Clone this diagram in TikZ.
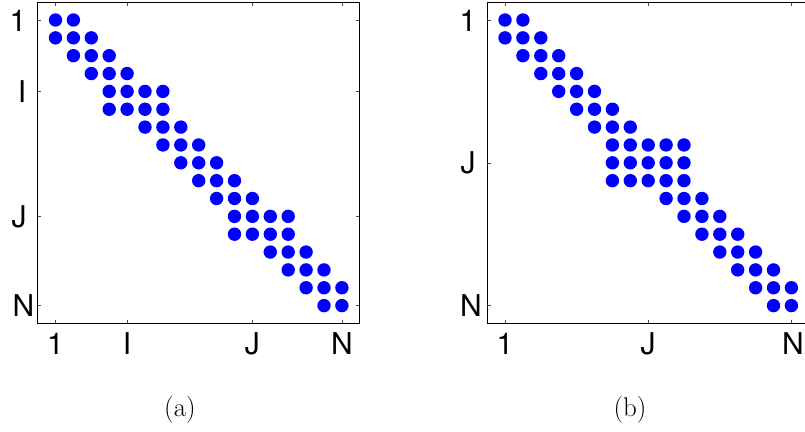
\documentclass[tikz,border=0pt]{standalone}
\usepackage{fontspec}
\newfontfamily\axfont{TeX Gyre Heros}
\definecolor{mblue}{RGB}{0,0,255}
\begin{document}
\begin{tikzpicture}[x=1pt,y=-1pt,
  dot/.style={fill=mblue},
  axbox/.style={line width=0.9pt},
  tck/.style={line width=0.5pt, black!70},
  ticklab/.style={font=\axfont\fontsize{30}{30}\selectfont, inner sep=0pt, anchor=center},
  captext/.style={font=\fontsize{27}{27}\selectfont, inner sep=0pt}]
\useasboundingbox (0,0) rectangle (805,431);
\clip (0,0) rectangle (805,431);
% ---------- plot (a) ----------
\draw[axbox] (37.7,2.7) rectangle (359.3,323.3);
\foreach \r/\a/\b in {1/1/2,2/1/3,3/2/4,4/3/5,5/4/7,6/4/7,7/6/8,8/7/9,9/8/10,10/9/11,11/10/12,12/11/14,13/11/14,14/13/15,15/14/16,16/15/17,17/16/17}
  \foreach \c in {\a,...,\b}
    \fill[dot] ({55.5+(\c-1)*17.9},{20+(\r-1)*17.85}) circle (6.7);
\foreach \k in {1,5,12,17}{
  \draw[tck] ({55.5+(\k-1)*17.9},323.3) -- ++(0,-3.5);
  \draw[tck] ({55.5+(\k-1)*17.9},2.7) -- ++(0,3.5);
  \draw[tck] (37.7,{20+(\k-1)*17.85}) -- ++(3.5,0);
  \draw[tck] (359.3,{20+(\k-1)*17.85}) -- ++(-3.5,0);
}
\node[ticklab] (ay1) at (18,21) {1};
\node[ticklab] (ayI) at (22,92) {I};
\node[ticklab] (ayJ) at (19,217) {J};
\node[ticklab] (ayN) at (23.5,306) {N};
\node[ticklab] (ax1) at (55.5,344) {1};
\node[ticklab] (axI) at (127.1,344) {I};
\node[ticklab] (axJ) at (252.4,344) {J};
\node[ticklab] (axN) at (341.9,344) {N};
\node[captext] (capa) at (180,410) {(a)};
% ---------- plot (b) ----------
\draw[axbox] (487.3,2.7) rectangle (808.9,323.3);
\foreach \r/\a/\b in {1/1/2,2/1/3,3/2/4,4/3/5,5/4/6,6/5/7,7/6/8,8/7/11,9/7/11,10/7/11,11/10/12,12/11/13,13/12/14,14/13/15,15/14/16,16/15/17,17/16/17}
  \foreach \c in {\a,...,\b}
    \fill[dot] ({505+(\c-1)*17.9},{20+(\r-1)*17.85}) circle (6.7);
\foreach \k in {1,9,17}{
  \draw[tck] ({505+(\k-1)*17.9},323.3) -- ++(0,-3.5);
  \draw[tck] ({505+(\k-1)*17.9},2.7) -- ++(0,3.5);
  \draw[tck] (487.3,{20+(\k-1)*17.85}) -- ++(3.5,0);
}
\node[ticklab] (by1) at (468,21) {1};
\node[ticklab] (byJ) at (468,163) {J};
\node[ticklab] (byN) at (471,306) {N};
\node[ticklab] (bx1) at (505,344) {1};
\node[ticklab] (bxJ) at (648.2,344) {J};
\node[ticklab] (bxN) at (793,344) {N};
\node[captext] (capb) at (630,410) {(b)};
\end{tikzpicture}
\end{document}
